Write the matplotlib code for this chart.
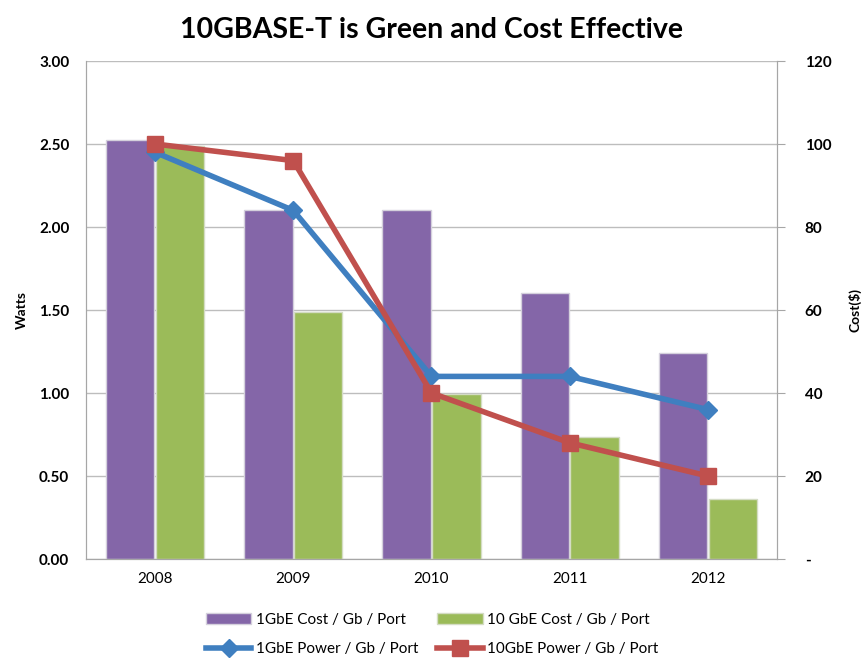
import numpy as np
import matplotlib.pyplot as plt
from matplotlib.ticker import FuncFormatter, MultipleLocator

# Data
years = ['2008', '2009', '2010', '2011', '2012']
cost_1g = [101, 84, 84, 64, 49.6]        # $ per Gb per port (right axis)
cost_10g = [99.5, 59.5, 39.8, 29.4, 14.4]
power_1g = [2.45, 2.10, 1.10, 1.10, 0.90]  # Watts per Gb per port (left axis)
power_10g = [2.50, 2.40, 1.00, 0.70, 0.50]

purple = '#8466a8'
green = '#9bbb59'
blue = '#3f7fc0'
red = '#c0504d'

plt.rcParams['font.family'] = ['Lato', 'DejaVu Sans']

fig = plt.figure(figsize=(8.64, 6.61), dpi=100)
ax = fig.add_axes([0.0995, 0.1543, 0.7998, 0.7534])
ax2 = ax.twinx()

x = np.arange(len(years))
w = 0.35

# bars on the cost axis, drawn behind the power lines
ax2.bar(x - 0.18, cost_1g, w, color=purple, edgecolor='#d4d0dc', linewidth=1,
        label='1GbE Cost / Gb / Port')
ax2.bar(x + 0.18, cost_10g, w, color=green, edgecolor='#d4dcc4', linewidth=1,
        label='10 GbE Cost / Gb / Port')
ax2.set_ylim(0, 120)
ax2.yaxis.set_major_locator(MultipleLocator(20))
ax2.yaxis.set_major_formatter(FuncFormatter(lambda v, p: '-' if v == 0 else f'{v:.0f}'))
ax2.grid(axis='y', color='#bdbdbd', linewidth=1)
ax2.set_axisbelow(True)

ax.plot(x, power_1g, color=blue, lw=4, marker='D', ms=9, label='1GbE Power / Gb / Port')
ax.plot(x, power_10g, color=red, lw=4, marker='s', ms=11, label='10GbE Power / Gb / Port')
ax.set_ylim(0, 3)
ax.set_xlim(-0.5, 4.5)
ax.yaxis.set_major_locator(MultipleLocator(0.5))
ax.yaxis.set_major_formatter(FuncFormatter(lambda v, p: f'{v:.2f}'))
ax.set_xticks(x)
ax.set_xticklabels(years)

ax.set_zorder(2)
ax.patch.set_visible(False)
ax2.set_zorder(1)

for a in (ax, ax2):
    for s in a.spines.values():
        s.set_color('#a6a6a6')
    a.spines['top'].set_visible(False)

ax.tick_params(axis='y', length=0, pad=12, labelsize=11)
for lbl in ax.get_yticklabels():
    lbl.set_fontweight('bold')
ax.tick_params(axis='x', length=0, pad=9, labelsize=11)
ax2.tick_params(axis='y', length=6, color='#a6a6a6', pad=14, labelsize=11)
for lbl in ax2.get_yticklabels():
    lbl.set_fontweight('bold')

ax.set_ylabel('Watts', fontsize=10, fontweight='bold', labelpad=8)
ax2.set_ylabel('Cost($)', fontsize=10, fontweight='bold', labelpad=12)

fig.suptitle('10GBASE-T is Green and Cost Effective', fontsize=20.5, fontweight='bold',
             y=0.975)

h1, l1 = ax2.get_legend_handles_labels()
h2, l2 = ax.get_legend_handles_labels()
handles = [h1[0], h2[0], h1[1], h2[1]]
labels = [l1[0], l2[0], l1[1], l2[1]]
fig.legend(handles, labels, ncol=2, loc='center', bbox_to_anchor=(0.5, 0.04),
           frameon=False, fontsize=11, handlelength=3, columnspacing=1.2,
           handletextpad=0.3, labelspacing=1.0)

fig.savefig('out.png', dpi=100)
